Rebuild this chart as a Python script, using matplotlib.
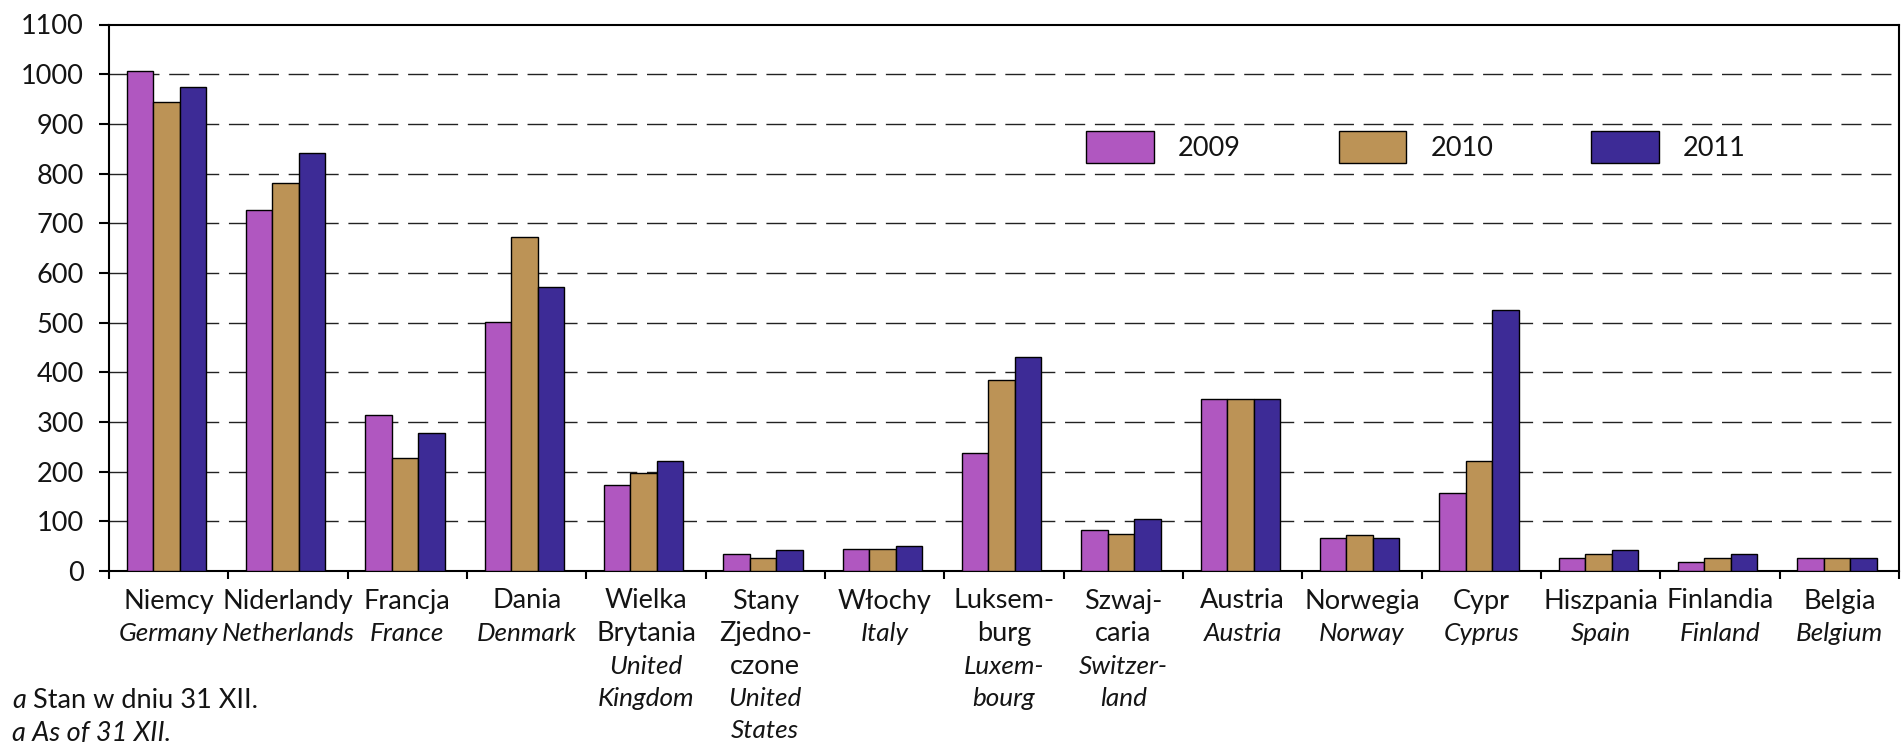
import matplotlib.pyplot as plt
import numpy as np
from matplotlib.transforms import blended_transform_factory

plt.rcParams['font.family'] = ['Lato', 'DejaVu Sans']

countries_pl = ["Niemcy", "Niderlandy", "Francja", "Dania", "Wielka\nBrytania",
                "Stany\nZjedno-\nczone", "Włochy", "Luksem-\nburg", "Szwaj-\ncaria",
                "Austria", "Norwegia", "Cypr", "Hiszpania", "Finlandia", "Belgia"]
countries_en = ["Germany", "Netherlands", "France", "Denmark", "United\nKingdom",
                "United\nStates", "Italy", "Luxem-\nbourg", "Switzer-\nland",
                "Austria", "Norway", "Cyprus", "Spain", "Finland", "Belgium"]
years = ["2009", "2010", "2011"]
v2009 = [1006, 726, 315, 501, 174, 35, 44, 237, 82, 346, 66, 158, 26, 18, 26]
v2010 = [944, 781, 228, 672, 197, 27, 44, 385, 74, 346, 73, 221, 34, 26, 26]
v2011 = [974, 842, 277, 572, 221, 43, 51, 431, 105, 346, 66, 525, 42, 34, 26]
yticks = list(range(0, 1101, 100))

colors = ["#B057C0", "#BC9356", "#3D2B96"]
txtcol = "#141414"
fs = 19.5
fs_it = 18.8

W, H = 1901, 742
fig = plt.figure(figsize=(W / 100, H / 100), dpi=100)
ax = fig.add_axes([109 / W, 1 - 571 / H, (1899 - 109) / W, (571 - 24.5) / H])

x = np.arange(len(countries_pl))
bw = 0.222
for i, (vals, col, lab) in enumerate(zip([v2009, v2010, v2011], colors, years)):
    ax.bar(x + (i - 1) * bw - 0.02, vals, width=bw, color=col, edgecolor="black",
           linewidth=1.0, label=lab, zorder=3)

ax.set_xlim(-0.5, len(x) - 0.5)
ax.set_ylim(0, 1100)
ax.set_yticks(yticks)
ax.set_yticklabels([str(t) for t in yticks], fontsize=fs, color=txtcol)
for t in yticks[1:-1]:
    ax.axhline(t, color="#222222", linewidth=1.0, dashes=(14.5, 7), zorder=1)

ax.set_xticks(np.arange(-0.5, len(x)), labels=[])
ax.tick_params(axis="x", direction="out", length=6, width=1.5)
ax.tick_params(axis="y", direction="out", length=7, width=1.5, pad=11)
for s in ax.spines.values():
    s.set_linewidth(1.5)

# category labels: Polish upright, English italic
tr = blended_transform_factory(ax.transData, fig.transFigure)
for xi, pl, en in zip(x, countries_pl, countries_en):
    lines = [(l, "normal", fs) for l in pl.split("\n")] + \
            [(l, "italic", fs_it) for l in en.split("\n")]
    for j, (txt, st, size) in enumerate(lines):
        ax.text(xi, 1 - (601 + 32.5 * j) / H, txt, transform=tr, ha="center",
                va="center", fontsize=size, style=st, color=txtcol)

ax.legend(loc="center", bbox_to_anchor=(1416 / W, 1 - 147 / H),
          bbox_transform=fig.transFigure, ncol=3, frameon=False, fontsize=fs,
          handlelength=2.5, handleheight=1.4, handletextpad=0.9, columnspacing=3.6,
          labelcolor=txtcol)

t1 = fig.text(12 / W, 1 - 700 / H, "a", style="italic", fontsize=fs,
              va="center", color=txtcol)
ax.annotate(" Stan w dniu 31 XII.", xy=(1, 0), xycoords=t1, va="bottom",
            fontsize=fs, color=txtcol)
fig.text(12 / W, 1 - 733 / H, "a As of 31 XII.", style="italic", fontsize=fs,
         va="center", color=txtcol)

fig.savefig("out.png", dpi=100)
